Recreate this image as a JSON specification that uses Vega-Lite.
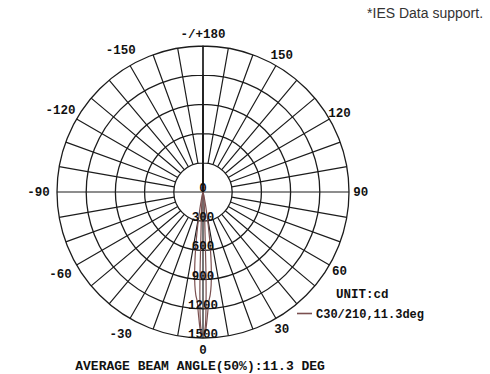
{
  "$schema": "https://vega.github.io/schema/vega-lite/v6.json",
  "width": 292,
  "height": 292,
  "autosize": {"type": "none"},
  "padding": {"left": 57, "top": 46, "right": 141, "bottom": 36},
  "background": "white",
  "config": {"view": {"stroke": null}},
  "datasets": {
    "rings": [{"r": 300}, {"r": 600}, {"r": 900}, {"r": 1200}, {"r": 1500}],
    "ringLabels": [{"r": "0", "v": 0}, {"r": "300", "v": 300}, {"r": "600", "v": 600}, {"r": "900", "v": 900}, {"r": "1200", "v": 1200}, {"r": "1500", "v": 1500}],
    "spokes": [
      {"a": -170}, {"a": -160}, {"a": -150}, {"a": -140}, {"a": -130}, {"a": -120}, {"a": -110}, {"a": -100},
      {"a": -80}, {"a": -70}, {"a": -60}, {"a": -50}, {"a": -40}, {"a": -30}, {"a": -20}, {"a": -10},
      {"a": 10}, {"a": 20}, {"a": 30}, {"a": 40}, {"a": 50}, {"a": 60}, {"a": 70}, {"a": 80},
      {"a": 100}, {"a": 110}, {"a": 120}, {"a": 130}, {"a": 140}, {"a": 150}, {"a": 160}, {"a": 170}
    ],
    "axes": [{"a": 0}, {"a": 90}, {"a": 180}, {"a": -90}],
    "angleLabels": [
      {"a": 0, "label": "0", "side": "R"},
      {"a": 30, "label": "30", "side": "R"},
      {"a": 60, "label": "60", "side": "R"},
      {"a": 90, "label": "90", "side": "R"},
      {"a": 120, "label": "120", "side": "R"},
      {"a": 150, "label": "150", "side": "R"},
      {"a": 180, "label": "-/+180", "side": "R"},
      {"a": -30, "label": "-30", "side": "L"},
      {"a": -60, "label": "-60", "side": "L"},
      {"a": -90, "label": "-90", "side": "L"},
      {"a": -120, "label": "-120", "side": "L"},
      {"a": -150, "label": "-150", "side": "L"}
    ],
    "lobe": [
      {"curve": "outer", "k": 0, "x": 0, "y": 0},
      {"curve": "outer", "k": 1, "x": -11.2, "y": -48.7},
      {"curve": "outer", "k": 2, "x": -24.8, "y": -127.6},
      {"curve": "outer", "k": 3, "x": -36.5, "y": -206.8},
      {"curve": "outer", "k": 4, "x": -53.2, "y": -335.8},
      {"curve": "outer", "k": 5, "x": -68.2, "y": -485.2},
      {"curve": "outer", "k": 6, "x": -80.4, "y": -655.1},
      {"curve": "outer", "k": 7, "x": -85.7, "y": -815.5},
      {"curve": "outer", "k": 8, "x": -83.7, "y": -956.3},
      {"curve": "outer", "k": 9, "x": -73.9, "y": -1057.4},
      {"curve": "outer", "k": 10, "x": -59.1, "y": -1128.5},
      {"curve": "outer", "k": 11, "x": -44.7, "y": -1279.2},
      {"curve": "outer", "k": 12, "x": -25.1, "y": -1439.8},
      {"curve": "outer", "k": 13, "x": 0, "y": -1460},
      {"curve": "outer", "k": 14, "x": 25.1, "y": -1439.8},
      {"curve": "outer", "k": 15, "x": 44.7, "y": -1279.2},
      {"curve": "outer", "k": 16, "x": 59.1, "y": -1128.5},
      {"curve": "outer", "k": 17, "x": 73.9, "y": -1057.4},
      {"curve": "outer", "k": 18, "x": 83.7, "y": -956.3},
      {"curve": "outer", "k": 19, "x": 85.7, "y": -815.5},
      {"curve": "outer", "k": 20, "x": 80.4, "y": -655.1},
      {"curve": "outer", "k": 21, "x": 68.2, "y": -485.2},
      {"curve": "outer", "k": 22, "x": 53.2, "y": -335.8},
      {"curve": "outer", "k": 23, "x": 36.5, "y": -206.8},
      {"curve": "outer", "k": 24, "x": 24.8, "y": -127.6},
      {"curve": "outer", "k": 25, "x": 11.2, "y": -48.7},
      {"curve": "outer", "k": 26, "x": 0, "y": 0},
      {"curve": "inner", "k": 0, "x": 0, "y": 0},
      {"curve": "inner", "k": 1, "x": -6.3, "y": -39.5},
      {"curve": "inner", "k": 2, "x": -12.5, "y": -119.3},
      {"curve": "inner", "k": 3, "x": -16.7, "y": -239.4},
      {"curve": "inner", "k": 4, "x": -19.9, "y": -379.5},
      {"curve": "inner", "k": 5, "x": -24.4, "y": -559.5},
      {"curve": "inner", "k": 6, "x": -31.4, "y": -899.5},
      {"curve": "inner", "k": 7, "x": -30.9, "y": -1179.6},
      {"curve": "inner", "k": 8, "x": -24.1, "y": -1379.8},
      {"curve": "inner", "k": 9, "x": 0, "y": -1460},
      {"curve": "inner", "k": 10, "x": 24.1, "y": -1379.8},
      {"curve": "inner", "k": 11, "x": 30.9, "y": -1179.6},
      {"curve": "inner", "k": 12, "x": 31.4, "y": -899.5},
      {"curve": "inner", "k": 13, "x": 24.4, "y": -559.5},
      {"curve": "inner", "k": 14, "x": 19.9, "y": -379.5},
      {"curve": "inner", "k": 15, "x": 16.7, "y": -239.4},
      {"curve": "inner", "k": 16, "x": 12.5, "y": -119.3},
      {"curve": "inner", "k": 17, "x": 6.3, "y": -39.5},
      {"curve": "inner", "k": 18, "x": 0, "y": 0}
    ],
    "notes": [
      {"text": "*IES Data support.", "px": 2877, "py": 1829},
      {"text": "UNIT:cd", "px": 1366, "py": -1050},
      {"text": "AVERAGE BEAM ANGLE(50%):11.3 DEG", "px": -30, "py": -1790}
    ]
  },
  "layer": [
    {
      "data": {"name": "rings"},
      "mark": {"type": "arc", "filled": false, "stroke": "#1c1c1c", "strokeWidth": 1.3},
      "encoding": {
        "theta": {"datum": 180, "type": "quantitative", "scale": {"type": "linear", "domain": [-180, 180], "range": [6.283185307, 0], "zero": false, "nice": false}},
        "theta2": {"datum": -180},
        "radius": {"field": "r", "type": "quantitative", "stack": null, "scale": {"type": "linear", "domain": [0, 1500], "range": [0, 146], "zero": true, "nice": false}}
      }
    },
    {
      "data": {"name": "spokes"},
      "mark": {"type": "arc", "filled": false, "stroke": "#1c1c1c", "strokeWidth": 1.2},
      "encoding": {
        "theta": {"field": "a", "type": "quantitative", "stack": null},
        "theta2": {"field": "a"},
        "radius": {"datum": 1500, "type": "quantitative"},
        "radius2": {"datum": 300}
      }
    },
    {
      "data": {"name": "axes"},
      "mark": {"type": "arc", "filled": false, "stroke": "#1c1c1c", "strokeWidth": 1.2},
      "encoding": {
        "theta": {"field": "a", "type": "quantitative", "stack": null},
        "theta2": {"field": "a"},
        "radius": {"datum": 1500, "type": "quantitative"},
        "radius2": {"datum": 0}
      }
    },
    {
      "data": {"name": "lobe"},
      "mark": {"type": "line", "strokeWidth": 1.2, "interpolate": "cardinal"},
      "encoding": {
        "x": {"field": "x", "type": "quantitative", "scale": {"domain": [-1500, 1500], "nice": false, "zero": false}, "axis": null},
        "y": {"field": "y", "type": "quantitative", "scale": {"domain": [-1500, 1500], "nice": false, "zero": false}, "axis": null},
        "detail": {"field": "curve"},
        "order": {"field": "k"},
        "color": {
          "datum": "C30/210,11.3deg",
          "type": "nominal",
          "scale": {"domain": ["C30/210,11.3deg"], "range": ["#7b5050"]},
          "legend": {
            "title": null,
            "orient": "none",
            "legendX": 239,
            "legendY": 259,
            "symbolType": "stroke",
            "symbolSize": 225,
            "symbolStrokeWidth": 1.6,
            "labelFont": "Liberation Mono",
            "labelFontWeight": "bold",
            "labelFontSize": 12,
            "labelColor": "#111",
            "labelOffset": 3,
            "padding": 0
          }
        }
      }
    },
    {
      "data": {"name": "ringLabels"},
      "mark": {"type": "text", "font": "Liberation Mono", "fontWeight": "bold", "fontSize": 12.5, "color": "#111", "align": "center", "baseline": "alphabetic"},
      "encoding": {
        "theta": {"datum": 0, "type": "quantitative"},
        "radius": {"field": "v", "type": "quantitative", "stack": null},
        "text": {"field": "r", "type": "nominal"}
      }
    },
    {
      "data": {"name": "angleLabels"},
      "transform": [{"filter": "datum.side === 'R'"}],
      "mark": {"type": "text", "font": "Liberation Mono", "fontWeight": "bold", "fontSize": 12.5, "color": "#111", "align": "center", "baseline": "middle"},
      "encoding": {
        "theta": {"field": "a", "type": "quantitative", "stack": null},
        "radius": {"datum": 1620, "type": "quantitative"},
        "text": {"field": "label", "type": "nominal"}
      }
    },
    {
      "data": {"name": "angleLabels"},
      "transform": [{"filter": "datum.side === 'L'"}],
      "mark": {"type": "text", "font": "Liberation Mono", "fontWeight": "bold", "fontSize": 12.5, "color": "#111", "align": "center", "baseline": "middle"},
      "encoding": {
        "theta": {"field": "a", "type": "quantitative", "stack": null},
        "radius": {"datum": 1690, "type": "quantitative"},
        "text": {"field": "label", "type": "nominal"}
      }
    },
    {
      "data": {"name": "notes"},
      "transform": [{"filter": "datum.text === '*IES Data support.'"}],
      "mark": {"type": "text", "font": "Liberation Sans", "fontSize": 14, "color": "#333", "align": "right", "baseline": "middle"},
      "encoding": {
        "x": {"field": "px", "type": "quantitative"},
        "y": {"field": "py", "type": "quantitative"},
        "text": {"field": "text", "type": "nominal"}
      }
    },
    {
      "data": {"name": "notes"},
      "transform": [{"filter": "datum.text === 'UNIT:cd'"}],
      "mark": {"type": "text", "font": "Liberation Mono", "fontWeight": "bold", "fontSize": 12.5, "color": "#111", "align": "left", "baseline": "middle"},
      "encoding": {
        "x": {"field": "px", "type": "quantitative"},
        "y": {"field": "py", "type": "quantitative"},
        "text": {"field": "text", "type": "nominal"}
      }
    },
    {
      "data": {"name": "notes"},
      "transform": [{"filter": "datum.text !== 'UNIT:cd' && datum.text !== '*IES Data support.'"}],
      "mark": {"type": "text", "font": "Liberation Mono", "fontWeight": "bold", "fontSize": 13, "color": "#111", "align": "center", "baseline": "middle"},
      "encoding": {
        "x": {"field": "px", "type": "quantitative"},
        "y": {"field": "py", "type": "quantitative"},
        "text": {"field": "text", "type": "nominal"}
      }
    }
  ]
}
